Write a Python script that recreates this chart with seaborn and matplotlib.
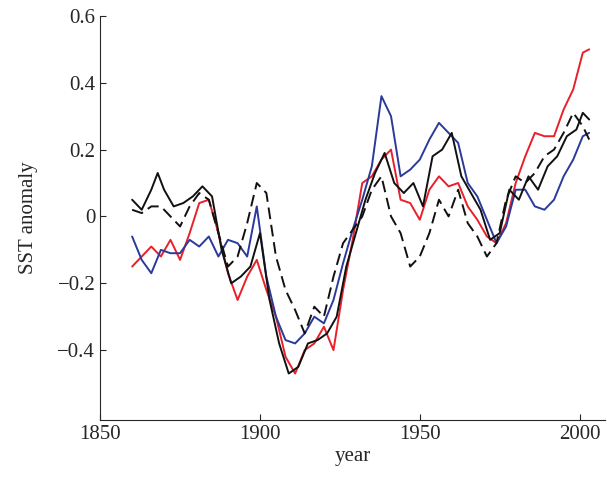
import matplotlib
matplotlib.use("Agg")
import matplotlib.pyplot as plt
import seaborn as sns
import pandas as pd

sns.set_style("ticks")
plt.rcParams['font.family'] = ['Liberation Serif', 'DejaVu Serif']

red_x = [1860,1863,1866,1869,1872,1875,1878,1881,1884,1887,1890,1893,1896,1899,1902,1905,1908,1911,1914,1917,1920,1923,1926,1929,1932,1935,1938,1941,1944,1947,1950,1953,1956,1959,1962,1965,1968,1971,1974,1977,1980,1983,1986,1989,1992,1995,1998,2001,2003]
red_y = [-0.15,-0.12,-0.09,-0.12,-0.07,-0.13,-0.05,0.04,0.05,-0.05,-0.17,-0.25,-0.18,-0.13,-0.22,-0.30,-0.42,-0.47,-0.40,-0.38,-0.33,-0.40,-0.22,-0.07,0.10,0.12,0.17,0.20,0.05,0.04,-0.01,0.08,0.12,0.09,0.10,0.03,-0.01,-0.06,-0.08,-0.02,0.10,0.18,0.25,0.24,0.24,0.32,0.38,0.49,0.50]
blue_x = red_x
blue_y = [-0.06,-0.13,-0.17,-0.10,-0.11,-0.11,-0.07,-0.09,-0.06,-0.12,-0.07,-0.08,-0.12,0.03,-0.18,-0.30,-0.37,-0.38,-0.35,-0.30,-0.32,-0.25,-0.14,-0.04,0.05,0.15,0.36,0.30,0.12,0.14,0.17,0.23,0.28,0.25,0.22,0.10,0.06,-0.01,-0.08,-0.03,0.08,0.08,0.03,0.02,0.05,0.12,0.17,0.24,0.25]
solid_x = [1860,1863,1866,1868,1870,1873,1876,1879,1882,1885,1888,1891,1894,1897,1900,1903,1906,1909,1912,1915,1918,1921,1924,1927,1930,1933,1936,1939,1942,1945,1948,1951,1954,1957,1960,1963,1966,1969,1972,1975,1978,1981,1984,1987,1990,1993,1996,1999,2001,2003]
solid_y = [0.05,0.02,0.08,0.13,0.08,0.03,0.04,0.06,0.09,0.06,-0.10,-0.20,-0.18,-0.15,-0.05,-0.25,-0.38,-0.47,-0.45,-0.38,-0.37,-0.35,-0.30,-0.15,-0.05,0.05,0.13,0.19,0.10,0.07,0.10,0.03,0.18,0.20,0.25,0.12,0.07,0.02,-0.07,-0.05,0.08,0.05,0.12,0.08,0.15,0.18,0.24,0.26,0.31,0.29]
dash_x = red_x
dash_y = [0.02,0.01,0.03,0.03,0.00,-0.03,0.03,0.07,0.05,-0.05,-0.15,-0.12,-0.02,0.10,0.07,-0.12,-0.22,-0.28,-0.35,-0.27,-0.30,-0.18,-0.08,-0.04,0.00,0.08,0.12,0.00,-0.05,-0.15,-0.12,-0.05,0.05,0.00,0.08,-0.02,-0.06,-0.12,-0.08,0.05,0.12,0.10,0.13,0.18,0.20,0.25,0.31,0.27,0.23]

fig, ax = plt.subplots(figsize=(6.07, 4.82), dpi=100)
fig.subplots_adjust(left=0.165, right=0.997, top=0.967, bottom=0.128)
for xs, ys, c, ls in [(red_x, red_y, '#e8202a', '-'), (blue_x, blue_y, '#2b3a9a', '-'),
                      (solid_x, solid_y, '#111111', '-'), (dash_x, dash_y, '#111111', (0, (6, 3)))]:
    sns.lineplot(x=xs, y=ys, ax=ax, color=c, linestyle=ls, linewidth=1.4)
ax.set_xlim(1850, 2008)
ax.set_ylim(-0.61, 0.6)
ax.set_xticks([1850, 1900, 1950, 2000])
ax.set_yticks([-0.4, -0.2, 0, 0.2, 0.4, 0.6])
ax.set_yticklabels(['\u22120.4', '\u22120.2', '0', '0.2', '0.4', '0.6'])
ax.tick_params(labelsize=15, direction='in', length=4)
ax.set_xlabel('year', fontsize=15, labelpad=2)
ax.set_ylabel('SST anomaly', fontsize=15, labelpad=14)
sns.despine(ax=ax)
fig.savefig('out.png', dpi=100)
